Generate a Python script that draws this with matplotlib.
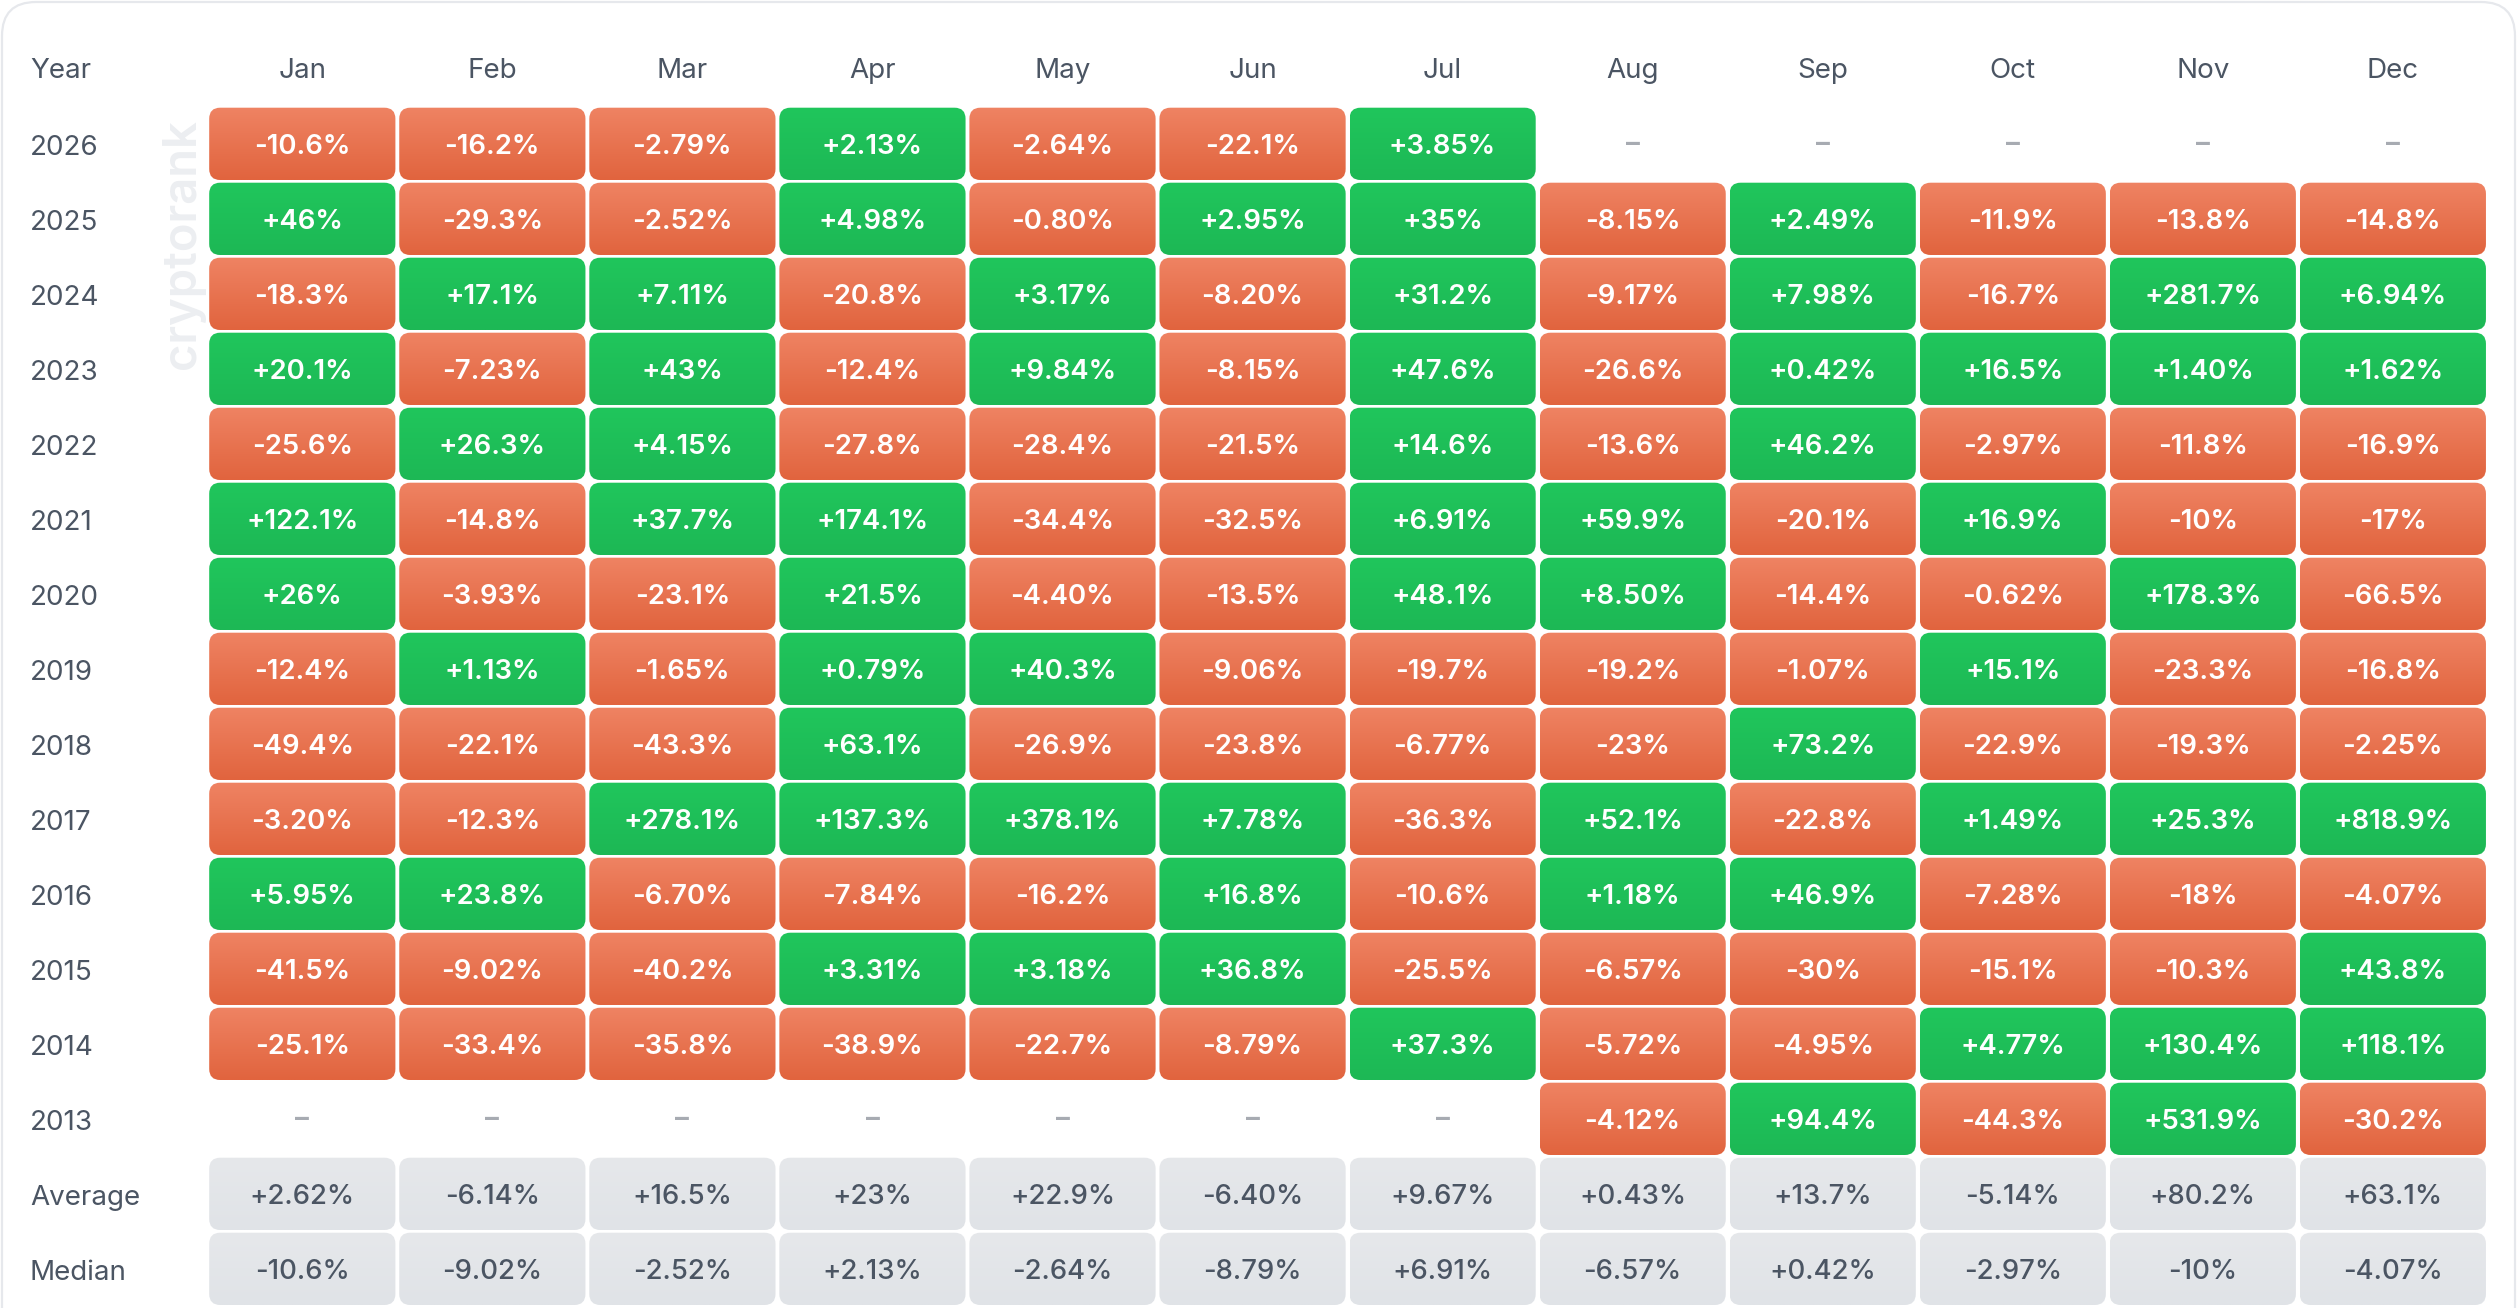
import matplotlib
matplotlib.use("Agg")
import matplotlib.pyplot as plt
from matplotlib.patches import FancyBboxPatch
import matplotlib.colors as mcolors
import numpy as np

plt.rcParams['font.family'] = ['Inter', 'DejaVu Sans']

months = ["Jan", "Feb", "Mar", "Apr", "May", "Jun", "Jul", "Aug", "Sep", "Oct", "Nov", "Dec"]
row_labels = ["2026", "2025", "2024", "2023", "2022", "2021", "2020", "2019",
              "2018", "2017", "2016", "2015", "2014", "2013", "Average", "Median"]

y2026 = [-10.6, -16.2, -2.79, 2.13, -2.64, -22.1, 3.85, None, None, None, None, None]
y2025 = [46, -29.3, -2.52, 4.98, -0.80, 2.95, 35, -8.15, 2.49, -11.9, -13.8, -14.8]
y2024 = [-18.3, 17.1, 7.11, -20.8, 3.17, -8.20, 31.2, -9.17, 7.98, -16.7, 281.7, 6.94]
y2023 = [20.1, -7.23, 43, -12.4, 9.84, -8.15, 47.6, -26.6, 0.42, 16.5, 1.40, 1.62]
y2022 = [-25.6, 26.3, 4.15, -27.8, -28.4, -21.5, 14.6, -13.6, 46.2, -2.97, -11.8, -16.9]
y2021 = [122.1, -14.8, 37.7, 174.1, -34.4, -32.5, 6.91, 59.9, -20.1, 16.9, -10, -17]
y2020 = [26, -3.93, -23.1, 21.5, -4.40, -13.5, 48.1, 8.50, -14.4, -0.62, 178.3, -66.5]
y2019 = [-12.4, 1.13, -1.65, 0.79, 40.3, -9.06, -19.7, -19.2, -1.07, 15.1, -23.3, -16.8]
y2018 = [-49.4, -22.1, -43.3, 63.1, -26.9, -23.8, -6.77, -23, 73.2, -22.9, -19.3, -2.25]
y2017 = [-3.20, -12.3, 278.1, 137.3, 378.1, 7.78, -36.3, 52.1, -22.8, 1.49, 25.3, 818.9]
y2016 = [5.95, 23.8, -6.70, -7.84, -16.2, 16.8, -10.6, 1.18, 46.9, -7.28, -18, -4.07]
y2015 = [-41.5, -9.02, -40.2, 3.31, 3.18, 36.8, -25.5, -6.57, -30, -15.1, -10.3, 43.8]
y2014 = [-25.1, -33.4, -35.8, -38.9, -22.7, -8.79, 37.3, -5.72, -4.95, 4.77, 130.4, 118.1]
y2013 = [None, None, None, None, None, None, None, -4.12, 94.4, -44.3, 531.9, -30.2]
average = [2.62, -6.14, 16.5, 23, 22.9, -6.40, 9.67, 0.43, 13.7, -5.14, 80.2, 63.1]
median = [-10.6, -9.02, -2.52, 2.13, -2.64, -8.79, 6.91, -6.57, 0.42, -2.97, -10, -4.07]

rows = [y2026, y2025, y2024, y2023, y2022, y2021, y2020, y2019,
        y2018, y2017, y2016, y2015, y2014, y2013, average, median]
n_stat_rows = 2


def fmt(v):
    if abs(v) < 10:
        return f"{v:+.2f}%"
    s = f"{v:+.1f}"
    if s.endswith(".0"):
        s = s[:-2]
    return s + "%"


W, H = 2519, 1308
fig = plt.figure(figsize=(W / 100, H / 100), dpi=100)
fig.patch.set_facecolor("white")
ax = fig.add_axes([0, 0, 1, 1])
ax.set_xlim(0, W)
ax.set_ylim(H, 0)
ax.axis("off")

# card border
card = FancyBboxPatch((2, 2), W - 6, H + 60, boxstyle="round,pad=0,rounding_size=34",
                      facecolor="white", edgecolor="#E6E8EC", linewidth=1.6, zorder=0)
ax.add_patch(card)

# watermark
ax.text(183, 244, "cryptorank", rotation=90, ha="center", va="center",
        rotation_mode="anchor", fontsize=34, fontweight="semibold", color="#ECEEF1", zorder=1)

X0, PITCH_X, CW = 209.2, 190.05, 186.2
Y0, PITCH_Y, CH = 107.7, 75.0, 72.3
LABEL_COLOR = "#4B5563"

RED = ("#EF8363", "#E1643E")
GREEN = ("#20C65C", "#1DB855")
GRAY = ("#E6E8EB", "#E0E3E7")


def gradient_cell(x, y, cols, zorder=2):
    patch = FancyBboxPatch((x, y), CW, CH, boxstyle="round,pad=0,rounding_size=11",
                           facecolor="none", edgecolor="none", zorder=zorder)
    ax.add_patch(patch)
    c0 = np.array(mcolors.to_rgb(cols[0]))
    c1 = np.array(mcolors.to_rgb(cols[1]))
    t = np.linspace(0, 1, 64)[:, None]
    img = (c0 * (1 - t) + c1 * t)[:, None, :]
    im = ax.imshow(img, extent=(x, x + CW, y + CH, y), origin="upper",
                   interpolation="bilinear", aspect="auto", zorder=zorder)
    im.set_clip_path(patch)


# header
ax.text(30, 78.5, "Year", ha="left", va="baseline", fontsize=20, color=LABEL_COLOR)
for j, m in enumerate(months):
    cx = X0 + PITCH_X * j + CW / 2
    ax.text(cx, 78.5, m, ha="center", va="baseline", fontsize=20, color=LABEL_COLOR)

n_rows = len(rows)
for i, (lab, vals) in enumerate(zip(row_labels, rows)):
    y = Y0 + PITCH_Y * i
    cy = y + CH / 2
    ax.text(30, cy + 11, lab, ha="left", va="baseline", fontsize=20, color=LABEL_COLOR)
    is_stat = i >= n_rows - n_stat_rows
    for j, v in enumerate(vals):
        x = X0 + PITCH_X * j
        cx = x + CW / 2
        if v is None:
            ax.text(cx, cy + 1.5, "–", ha="center", va="center", fontsize=20,
                    fontweight="bold", color="#A7ABB2", zorder=3)
            continue
        if is_stat:
            cols = GRAY
            tcol = LABEL_COLOR
            wt = "medium"
        else:
            cols = GREEN if v >= 0 else RED
            tcol = "white"
            wt = "semibold"
        gradient_cell(x, y, cols)
        ax.text(cx, cy + 10.3, fmt(v), ha="center", va="baseline", fontsize=19.8,
                fontweight=wt, color=tcol, zorder=4)

ax.set_xlim(0, W)
ax.set_ylim(H, 0)
fig.savefig("out.png", dpi=100, facecolor="white")
